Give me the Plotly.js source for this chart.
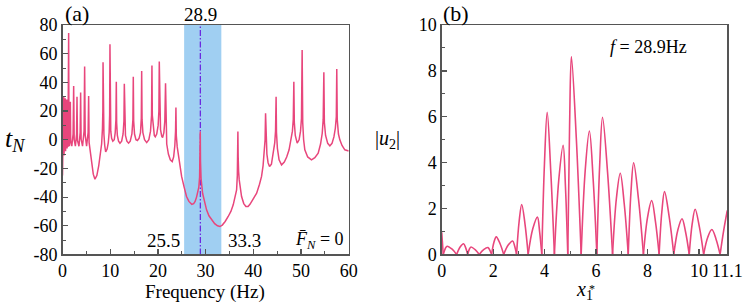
<!DOCTYPE html>
<html>
<head>
<meta charset="utf-8">
<script src="https://cdn.plot.ly/plotly-3.0.1.min.js"></script>
<style>html,body{margin:0;padding:0;background:#fff;}#chart{width:748px;height:304px;}</style>
</head>
<body>
<div id="chart"></div>
<script>
// ---- Panel (a): t_N versus frequency ----
const freqHz = [0,0.04,0.1,0.16,0.25,0.32,0.4,0.47,0.57,0.64,0.72,0.8,0.89,0.96,1.05,1.14,1.22,1.29,1.35,1.45,
1.56,1.64,1.72,1.95,2.22,2.34,2.45,2.7,2.95,3.04,3.14,3.45,3.7,3.8,3.9,4.2,4.52,4.64,4.76,5.05,
5.37,5.48,5.58,5.76,6.1,6.45,6.8,7.2,7.6,7.95,8.2,8.38,8.46,8.5,8.56,8.68,8.85,9.05,9.35,9.6,
9.78,9.88,9.95,10.02,10.12,10.3,10.55,10.85,11.05,11.2,11.28,11.35,11.5,11.75,12.05,12.4,12.7,12.88,12.96,13.04,
13.2,13.5,13.85,14.2,14.55,14.76,14.84,14.92,15.1,15.4,15.7,16.05,16.35,16.52,16.6,16.68,16.85,17.2,17.65,18.1,
18.45,18.67,18.75,18.83,19.0,19.25,19.45,19.75,20.05,20.21,20.29,20.37,20.55,20.8,20.99,21.25,21.45,21.6,21.68,21.85,
22.2,22.6,23.0,23.3,23.55,23.7,23.78,23.86,24.05,24.27,24.6,24.97,25.5,26.0,26.5,27.1,27.5,27.8,28.1,28.35,
28.58,28.74,28.84,28.88,28.93,29.05,29.37,29.8,30.2,30.7,31.26,31.9,32.5,33.0,33.5,34.1,34.74,35.3,35.79,36.2,
36.5,36.65,36.72,36.77,36.83,36.92,37.05,37.54,38.0,38.45,38.9,39.3,40.0,40.7,41.3,41.73,42.05,42.3,42.47,42.57,
42.65,42.85,43.1,43.4,43.8,44.2,44.5,44.66,44.78,44.86,45.05,45.4,45.92,46.5,47.0,47.5,47.95,48.2,48.38,48.5,
48.6,48.8,49.2,49.6,49.9,50.1,50.24,50.36,50.55,50.8,51.4,52.2,52.9,53.6,54.1,54.45,54.65,54.79,54.9,55.15,
55.6,56.05,56.5,56.9,57.2,57.4,57.5,57.6,57.85,58.14,58.6,59.19,60];
const tN = [-25,-18,4,-12,30.5,-11,6,-9,29,-8,8,-6,28,-6,8,-5,16,74.5,10,-4.5,
6,26.5,-1,-4.5,4,37.5,0,-4.5,4,30,-0.5,-4.5,5,33,0.5,-4.5,6,51,3,-4.5,
5,30.5,-2,-7,-16,-24,-27.5,-25,-18,-9,-3,8,20,54,18,4,-4,-8.5,-6.5,-2,
5,17,66.5,17,6,1,-1,0,5,14,40.5,12,3,-1,-2.4,-1,4,13,39,12,
3,-1,-2.4,-1,4,14,44,13,4,0,-0.5,1,5,15,48,14,5,0,-2,0,
6,17,51.7,17,8,3,2,4,10,20,54.5,18,7,2.5,1.5,5,13,39.4,8,-3,
-10,-14,-15.2,-12,-4,6,22.4,3,-5,-10,-18,-25.6,-33,-39.6,-43,-45,-44.5,-43,-40,-37,
-33,-26,-15,5.7,-15,-27,-37.3,-44,-48.9,-53,-55.8,-58.5,-60,-60.5,-59.5,-57,-53.5,-50,-45.4,-40,
-34.9,-25,-12,5.7,-12,-22,-28,-39.6,-44.5,-46.5,-46.5,-45,-41.5,-37.3,-31,-25.6,-18,-9.4,0,18.5,
0,-10,-16,-18.7,-17,-10,-2,6,30,5,-6,-14,-17.5,-15.5,-12,-7,0,6,14,40.5,
12,3,-2.4,0,6,15,62.6,12,0,-7,-12,-14,-12.5,-9.4,-3,4.5,14,47,12,3,
-2.5,-4.3,-2.5,2,8,16,49.4,14,4,-0.1,-4,-7,-7.8];
const bandRange = [25.5, 33.3];   // shaded frequency band (Hz)
const fSelected = [28.9];          // marked frequency (Hz)
const yTicksA = [-80,-60,-40,-20,0,20,40,60,80];
const yTickTextA = ['-80','-60','-40','-20','0','20','40','60','80'];

// ---- Panel (b): |u2| versus x1* at f = 28.9 Hz (arcs between zeros; null = break) ----
const xStar = [0,0.06,null,
0.06,0.135,0.21,0.395,0.58,null,
0.58,0.715,0.85,0.93,1.01,null,
1.01,1.075,1.14,1.30,1.46,null,
1.46,1.63,1.80,1.87,1.94,null,
1.94,2.03,2.12,2.265,2.41,null,
2.41,2.585,2.76,2.835,2.91,null,
2.91,3.01,3.11,3.235,3.36,null,
3.36,3.54,3.72,3.805,3.89,null,
3.89,3.995,4.10,4.24,4.38,null,
4.38,4.55,4.72,4.81,4.90,null,
4.90,4.97,5.04,5.23,5.42,null,
5.42,5.58,5.74,5.885,6.03,null,
6.03,6.14,6.25,6.445,6.64,null,
6.64,6.79,6.94,7.095,7.25,null,
7.25,7.355,7.46,7.65,7.84,null,
7.84,8.0,8.16,8.305,8.45,null,
8.45,8.555,8.66,8.84,9.02,null,
9.02,9.18,9.34,9.48,9.62,null,
9.62,9.735,9.85,10.015,10.18,null,
10.18,10.34,10.5,10.66,10.82,null,
10.82,10.96,11.1];
const u2Abs = [0.97,0,null,
0,0.25,0.36,0.24,0,null,
0,0.33,0.47,0.30,0,null,
0,0.23,0.33,0.21,0,null,
0,0.21,0.30,0.19,0,null,
0,0.53,0.77,0.48,0,null,
0,0.41,0.59,0.37,0,null,
0,1.45,2.18,1.35,0,null,
0,1.12,1.63,1.0,0,null,
0,4.0,6.2,3.6,0,null,
0,3.25,4.76,2.95,0,null,
0,5.6,8.62,5.1,0,null,
0,3.7,5.38,3.3,0,null,
0,3.9,5.98,3.6,0,null,
0,2.45,3.54,2.2,0,null,
0,2.7,4.0,2.4,0,null,
0,1.62,2.35,1.45,0,null,
0,1.85,2.74,1.65,0,null,
0,1.08,1.56,0.97,0,null,
0,1.33,1.97,1.2,0,null,
0,0.75,1.09,0.68,0,null,
0,1.05,1.92];
const xTicksB = [0,2,4,6,8,10,11.1];
const xTickTextB = ['0','2','4','6','8','10','11.1'];

const serif = "'Liberation Serif', 'Times New Roman', Times, serif";
const lineCol = '#E8467C';
const frameCol = '#555555';

const traces = [
  {x: freqHz, y: tN, type: 'scatter', mode: 'lines', xaxis: 'x', yaxis: 'y',
   line: {color: lineCol, width: 1.5}, hoverinfo: 'x+y', showlegend: false},
  {x: xStar, y: u2Abs, type: 'scatter', mode: 'lines', xaxis: 'x2', yaxis: 'y2',
   line: {color: lineCol, width: 1.6, shape: 'spline', smoothing: 1}, connectgaps: false,
   hoverinfo: 'x+y', showlegend: false}
];

const axBase = {
  showline: true, mirror: true, linecolor: frameCol, linewidth: 1.3,
  ticks: 'inside', ticklen: 5, tickwidth: 1.2, tickcolor: frameCol,
  showgrid: false, zeroline: false, fixedrange: true,
  tickfont: {family: serif, size: 18, color: '#000'}
};

function note(text, x, y, size, extra) {
  return Object.assign({text: text, xref: 'paper', yref: 'paper', x: x, y: y,
    xanchor: 'center', yanchor: 'middle', showarrow: false,
    font: {family: serif, size: size, color: '#000'}}, extra || {});
}

const layout = {
  width: 748, height: 304,
  margin: {l: 0, r: 0, t: 0, b: 0},
  paper_bgcolor: '#fff', plot_bgcolor: '#fff',
  font: {family: serif},
  showlegend: false,
  xaxis: Object.assign({}, axBase, {domain: [0.08356, 0.46618], range: [0, 60], dtick: 10, tick0: 0,
    minor: {ticks: 'inside', ticklen: 3, dtick: 5, tickcolor: frameCol, tickwidth: 1}}),
  yaxis: Object.assign({}, axBase, {domain: [0.16283, 0.91776], range: [-80, 80],
    tickmode: 'array', tickvals: yTicksA, ticktext: yTickTextA,
    minor: {ticks: 'inside', ticklen: 3, dtick: 10, tick0: 0, tickcolor: frameCol, tickwidth: 1}}),
  xaxis2: Object.assign({}, axBase, {domain: [0.59051, 0.97233], range: [0, 11.1], anchor: 'y2',
    tickmode: 'array', tickvals: xTicksB, ticktext: xTickTextB,
    minor: {ticks: 'inside', ticklen: 3, tickvals: [1,3,5,7,9], tickcolor: frameCol, tickwidth: 1}}),
  yaxis2: Object.assign({}, axBase, {domain: [0.16283, 0.91776], range: [0, 10], dtick: 2, tick0: 0, anchor: 'x2',
    minor: {ticks: 'inside', ticklen: 3, dtick: 1, tickcolor: frameCol, tickwidth: 1}}),
  shapes: [
    {type: 'rect', xref: 'x', yref: 'y domain', x0: bandRange[0], x1: bandRange[1], y0: 0, y1: 1,
     fillcolor: '#A0CFF2', line: {width: 0}, layer: 'below'},
    {type: 'line', xref: 'x', yref: 'y domain', x0: fSelected[0], x1: fSelected[0], y0: 0, y1: 1,
     line: {color: '#6B2BE0', width: 1.3, dash: '6px,2px,1.5px,2px'}, layer: 'below'}
  ],
  annotations: [
    note('(a)', 0.1029, 0.957, 22),
    note('(b)', 0.6096, 0.957, 22),
    note(String(fSelected[0]), fSelected[0], 0.951, 19, {xref: 'x'}),
    note(String(bandRange[0]), bandRange[0], 0.2105, 19, {xref: 'x', xanchor: 'right', xshift: -2}),
    note(String(bandRange[1]), bandRange[1], 0.2105, 19, {xref: 'x', xanchor: 'left', xshift: 5}),
    note('<i>F\u0304</i><sub><i>N</i></sub> = 0', 0.4278, 0.2105, 18),
    note('<i>t</i><sub><i>N</i></sub>', 0.02, 0.5395, 26),
    note('Frequency (Hz)', 0.274, 0.0395, 19),
    note('|<i>u</i><sub>2</sub>|', 0.5187, 0.5395, 20),
    note('<i>x</i><sub>1</sub>', 0.782, 0.046, 20),
    note('*', 0.7921, 0.0477, 12),
    note('<i>f</i> = 28.9Hz', 0.8676, 0.8454, 18)
  ]
};

Plotly.newPlot('chart', traces, layout, {staticPlot: true, displayModeBar: false});
</script>
</body>
</html>
